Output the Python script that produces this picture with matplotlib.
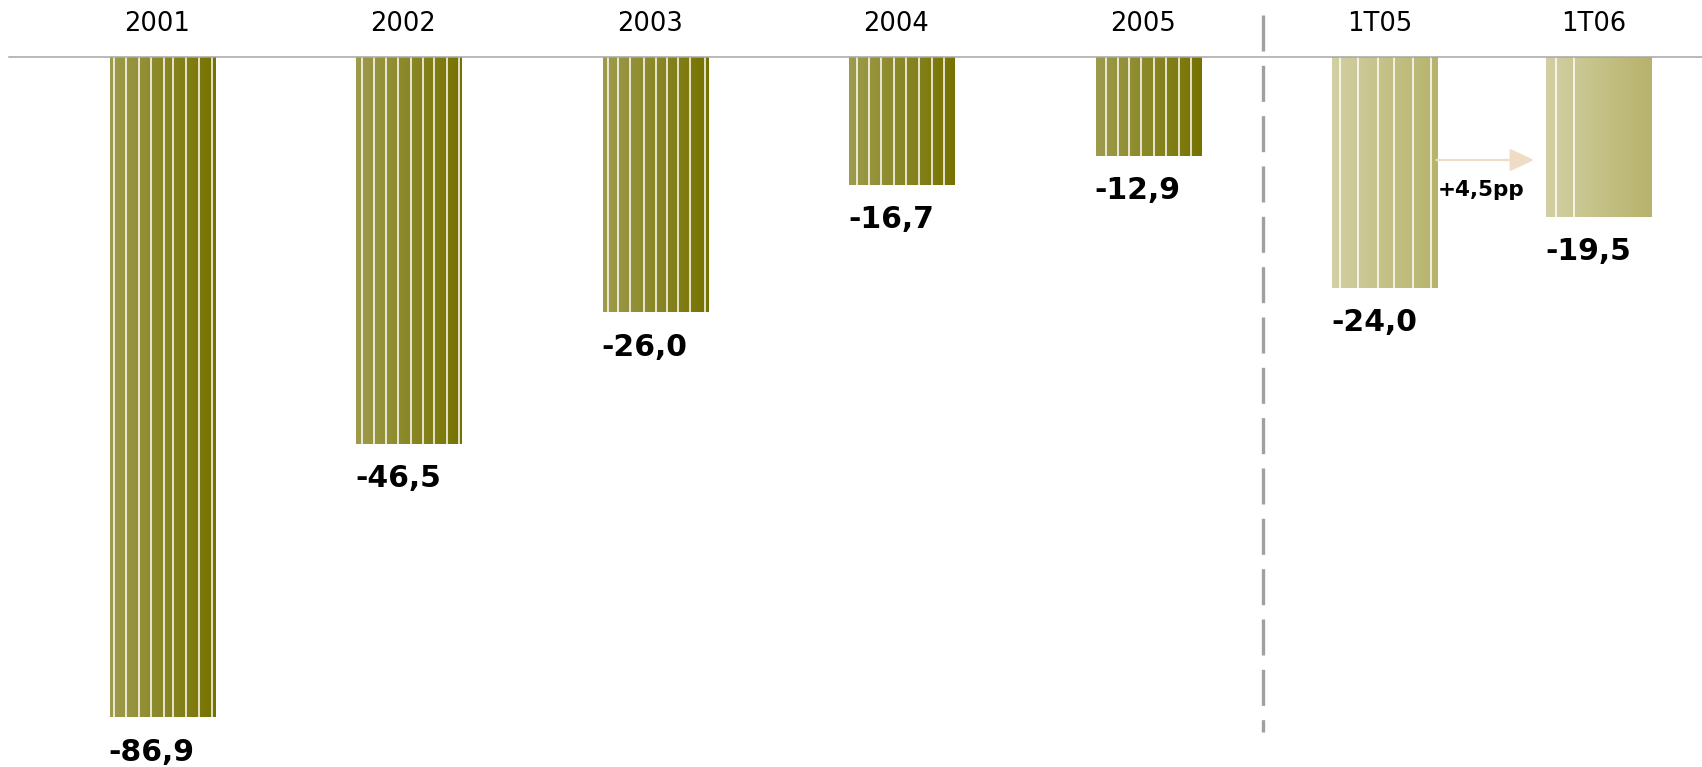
import numpy as np
import matplotlib
matplotlib.use("Agg")
import matplotlib.pyplot as plt
from matplotlib.colors import LinearSegmentedColormap

# ---- data ----
categories = ["2001", "2002", "2003", "2004", "2005", "1T05", "1T06"]
# bar lengths as drawn in the picture (the source chart is not drawn to scale)
bar_values = [-86.9, -50.9, -33.6, -16.8, -13.0, -30.4, -21.0]
value_labels = ["-86,9", "-46,5", "-26,0", "-16,7", "-12,9", "-24,0", "-19,5"]
change_label = "+4,5pp"

# ---- style ----
W, H, DPI = 1702, 767, 100
x_pos = [0, 1, 2, 3, 4, 4.961, 5.828]
bar_w = 0.43
dark = ["#9E9C4C", "#767200"]
light = ["#D2D0A3", "#B7B36C"]
stripes = [
    [0.04, 0.155, 0.275, 0.39, 0.515, 0.60, 0.725, 0.84, 0.968],
    [0.06, 0.17, 0.28, 0.40, 0.52, 0.63, 0.74, 0.86, 0.97],
    [0.05, 0.15, 0.26, 0.39, 0.50, 0.61, 0.71, 0.83, 0.97],
    [0.08, 0.19, 0.30, 0.42, 0.54, 0.66, 0.78, 0.90],
    [0.095, 0.209, 0.313, 0.427, 0.55, 0.668, 0.788, 0.902],
    [0.076, 0.244, 0.434, 0.585, 0.756, 0.93],
    [0.094, 0.264],
]

fig = plt.figure(figsize=(W / DPI, H / DPI), dpi=DPI)
ax = fig.add_axes([0, 0, 1, 1])
px_x = 246.5
px_y = 7.6
base_px = 57
ax.set_xlim(-162.5 / px_x, (W - 162.5) / px_x)
ax.set_ylim(-(H - base_px) / px_y, base_px / px_y)
ax.axis("off")

bars = ax.bar(x_pos, bar_values, width=bar_w, facecolor="none", edgecolor="none", zorder=2)
grad = np.linspace(0, 1, 256).reshape(1, -1)
for i, b in enumerate(bars):
    cols = dark if i < 5 else light
    cmap = LinearSegmentedColormap.from_list("g%d" % i, cols)
    x0, w, h = b.get_x(), b.get_width(), b.get_height()
    im = ax.imshow(grad, cmap=cmap, aspect="auto", extent=[x0, x0 + w, h, 0],
                   zorder=1, interpolation="bilinear")
    im.set_clip_path(b)
    for f in stripes[i]:
        ax.plot([x0 + f * w] * 2, [0, h], color="white", lw=1.1, zorder=3,
                solid_capstyle="butt")
    ax.annotate(value_labels[i], (x0, h), xytext=(-0.5, -25),
                textcoords="offset points", ha="left", va="center",
                fontsize=21.5, fontweight="bold", color="black")
    ax.annotate(categories[i], (x_pos[i], 0), xytext=(-4, 23.5),
                textcoords="offset points", ha="center", va="center",
                fontsize=18.5, color="black")

# baseline
ax.axhline(0, xmin=9 / W, xmax=1, color="#A6A6A6", lw=1.1, zorder=4)

# dashed separator
sep_x = (1263.5 - 162.5) / px_x
ax.plot([sep_x, sep_x], [(base_px - 15) / px_y, -(732 - base_px) / px_y],
        color="#A0A0A0", lw=2.4, dashes=(10.8, 4.3), zorder=4)

# change arrow
b5, b6 = bars[5], bars[6]
arrow_y = -(160 - base_px) / px_y
ax.annotate("", xy=(b6.get_x() - 12 / px_x, arrow_y),
            xytext=(b5.get_x() + b5.get_width() - 2 / px_x, arrow_y),
            arrowprops=dict(arrowstyle="-|>,head_length=0.75,head_width=0.35",
                            mutation_scale=20, color="#EEDDC4", lw=1.6,
                            shrinkA=0, shrinkB=0), zorder=5)
ax.text((1481 - 162.5) / px_x, -(190 - base_px) / px_y, change_label,
        ha="center", va="center", fontsize=15.5, fontweight="bold", color="black")

fig.savefig("out.png", dpi=DPI)
